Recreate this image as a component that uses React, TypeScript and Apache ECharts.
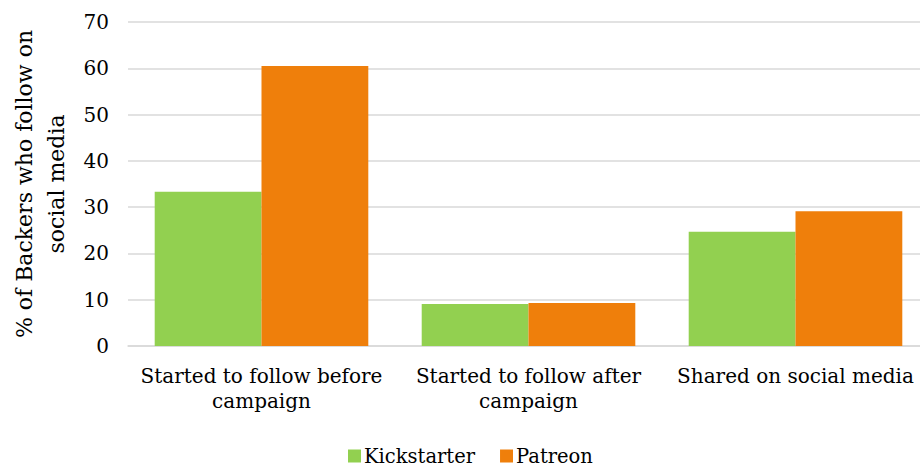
import React, { useEffect, useRef } from "react";
import * as echarts from "echarts";

const categories = [
  "Started to follow before campaign",
  "Started to follow after campaign",
  "Shared on social media",
];
const kickstarter = [33.3, 9.1, 24.7];
const patreon = [60.5, 9.3, 29.1];
const seriesNames = ["Kickstarter", "Patreon"];
const yAxisTitle = "% of Backers who follow on\nsocial media";

const FONT = "'DejaVu Serif', 'Liberation Serif', serif";

export default function App() {
  const ref = useRef<HTMLDivElement>(null);
  useEffect(() => {
    document.body.style.margin = "0";
    document.body.style.overflow = "hidden";
    const chart = echarts.init(ref.current!, null, { renderer: "svg" });
    chart.setOption({
      animation: false,
      backgroundColor: "#ffffff",
      textStyle: { fontFamily: FONT, color: "#000" },
      grid: { left: 124, top: 22, width: 805, height: 324, containLabel: false },
      legend: {
        data: seriesNames,
        left: 343,
        top: 441,
        itemWidth: 13,
        itemHeight: 13,
        itemGap: 25,
        icon: "rect",
        textStyle: { fontFamily: FONT, fontSize: 19.5, color: "#000", padding: [0, 0, 0, -2] },
      },
      xAxis: {
        type: "category",
        data: categories,
        axisLine: { show: true, lineStyle: { color: "#d9d9d9", width: 1.5 } },
        axisTick: { show: false },
        axisLabel: {
          interval: 0,
          margin: 17,
          fontFamily: FONT,
          fontSize: 20,
          lineHeight: 25,
          color: "#000",
          formatter: (v: string) => v.replace(/ campaign$/, "\ncampaign"),
        },
      },
      yAxis: {
        type: "value",
        min: 0,
        max: 70,
        interval: 10,
        name: yAxisTitle,
        nameLocation: "middle",
        nameGap: 56,
        nameRotate: 90,
        nameTextStyle: { fontFamily: FONT, fontSize: 22, lineHeight: 32, color: "#000" },
        axisLine: { show: false },
        axisTick: { show: false },
        splitLine: { lineStyle: { color: "#d9d9d9", width: 1.5 } },
        axisLabel: { margin: 19, fontFamily: FONT, fontSize: 20, color: "#000" },
      },
      series: [
        {
          name: seriesNames[0],
          type: "bar",
          data: kickstarter,
          itemStyle: { color: "#92D050" },
          barGap: "0%",
          barCategoryGap: "20%",
        },
        {
          name: seriesNames[1],
          type: "bar",
          data: patreon,
          itemStyle: { color: "#EF7F0B" },
          barGap: "0%",
          barCategoryGap: "20%",
        },
      ],
    });
    return () => chart.dispose();
  }, []);
  return (
    <div style={{ width: 920, height: 469, overflow: "hidden" }}>
      <div ref={ref} style={{ width: 940, height: 469 }} />
    </div>
  );
}
